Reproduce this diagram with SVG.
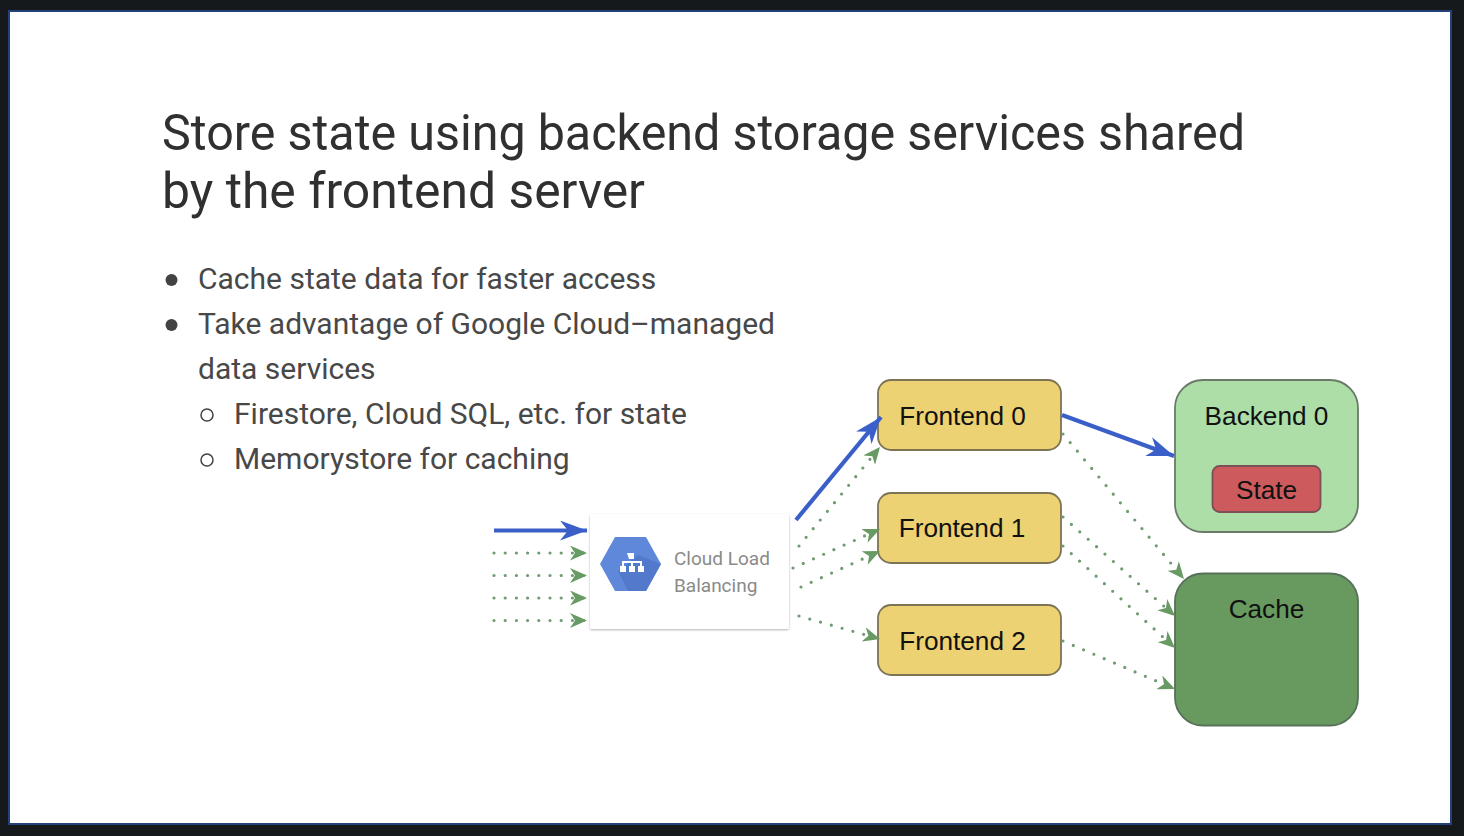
<svg xmlns="http://www.w3.org/2000/svg" width="1464" height="836" viewBox="0 0 1464 836">
<defs>
<style>
.title{font-family:"Roboto","Open Sans","Liberation Sans",sans-serif;font-size:49.500px;fill:#303030}
.body{font-family:"Roboto","Liberation Sans",sans-serif;font-size:30px;fill:#484848}
.lbl{font-family:"Liberation Sans",Arial,sans-serif;font-size:26.200px;fill:#111;text-anchor:middle}
.fe{fill:#ecd272;stroke:#7d7355;stroke-width:1.800}
.blue{stroke:#3a5fc8;stroke-width:4.200;fill:none}
.dot{stroke:#6f9a72;stroke-width:3.200;fill:none;stroke-linecap:round;stroke-dasharray:0 11.200}
</style>
<marker id="bh" markerUnits="userSpaceOnUse" viewBox="0 0 28 20" markerWidth="28" markerHeight="20" refX="27" refY="10" orient="auto"><path d="M0 0 27 10 0 20 8 10Z" fill="#3a5fc8"/></marker>
<marker id="gh" markerUnits="userSpaceOnUse" viewBox="0 0 18 15" markerWidth="18" markerHeight="15" refX="17" refY="7.500" orient="auto"><path d="M0 0 17 7.500 0 15 5 7.500Z" fill="#689a63"/></marker>
<filter id="sh" x="-5%" y="-5%" width="110%" height="110%"><feDropShadow dx="0" dy="1" stdDeviation="1.200" flood-color="#000" flood-opacity=".3"/></filter>
</defs>
<rect width="1464" height="836" fill="#16191b"/>
<rect x="9" y="11" width="1442" height="813" fill="#fff" stroke="#23427a" stroke-width="2"/>
<g id="title"><text class="title" x="162" y="150" textLength="1083" lengthAdjust="spacingAndGlyphs">Store state using backend storage services shared</text><text class="title" x="162" y="208" textLength="483" lengthAdjust="spacingAndGlyphs">by the frontend server</text></g>
<g id="bullets">
<circle cx="171.500" cy="280" r="6" fill="#424242"/><text class="body" x="198" y="288.500">Cache state data for faster access</text>
<circle cx="171.500" cy="325" r="6" fill="#424242"/><text class="body" x="198" y="333.500">Take advantage of Google Cloud–managed</text>
<text class="body" x="198" y="378.500">data services</text>
<circle cx="207" cy="415" r="6" fill="none" stroke="#424242" stroke-width="1.500"/><text class="body" x="234" y="423.500">Firestore, Cloud SQL, etc. for state</text>
<circle cx="207" cy="460" r="6" fill="none" stroke="#424242" stroke-width="1.500"/><text class="body" x="234" y="468.500">Memorystore for caching</text>
</g>
<g id="lb">
<rect x="590" y="514" width="199" height="115" rx="2" fill="#fff" filter="url(#sh)"/>
<path d="M600 564 615 537H646L661 564 646 591H615Z" fill="#5f88da"/>
<path d="M638 555 661 564 646 591H628L618 571Z" fill="#5279cc"/>
<path d="M627 553h7v6h-2v2h10v5h2v6h-6v-6h2v-3h-7v3h2v6h-6v-6h2v-3h-7v3h2v6h-6v-6h2v-5h10v-2h-3Z" fill="#fff"/>
<text x="674" y="565" font-family="Roboto,'Liberation Sans',sans-serif" font-size="19" fill="#8a8a8a">Cloud Load</text>
<text x="674" y="592" font-family="Roboto,'Liberation Sans',sans-serif" font-size="19" fill="#8a8a8a">Balancing</text>
</g>
<g id="frontend0"><rect class="fe" x="878" y="380" width="183" height="70" rx="13"/><text class="lbl" x="962.500" y="424.500">Frontend 0</text></g>
<g id="frontend1"><rect class="fe" x="878" y="493" width="183" height="70" rx="13"/><text class="lbl" x="962" y="537">Frontend 1</text></g>
<g id="frontend2"><rect class="fe" x="878" y="605" width="183" height="70" rx="13"/><text class="lbl" x="962.500" y="649.500">Frontend 2</text></g>
<g id="backend0"><rect x="1175" y="380" width="183" height="152" rx="28" fill="#aedea8" stroke="#697a68" stroke-width="1.800"/><text class="lbl" x="1266.500" y="424.500">Backend 0</text></g>
<g id="state"><rect x="1212.500" y="466" width="108" height="46" rx="7" fill="#cd5a5c" stroke="#7c5054" stroke-width="1.800"/><text class="lbl" x="1266.500" y="498.500">State</text></g>
<g id="cache"><rect x="1175" y="573.500" width="183" height="152" rx="28" fill="#689a60" stroke="#56705a" stroke-width="1.800"/><text class="lbl" x="1266.500" y="618">Cache</text></g>
<g id="connectors">
<path class="blue" d="M494 530.500H587" marker-end="url(#bh)"/>
<path class="dot" d="M494 553H587" marker-end="url(#gh)"/>
<path class="dot" d="M494 575.500H587" marker-end="url(#gh)"/>
<path class="dot" d="M494 598H587" marker-end="url(#gh)"/>
<path class="dot" d="M494 620.500H587" marker-end="url(#gh)"/>
<path class="blue" d="M796 520 881 417" marker-end="url(#bh)"/>
<path class="dot" d="M799 546 880 447" marker-end="url(#gh)"/>
<path class="dot" d="M793 568 880 529" marker-end="url(#gh)"/>
<path class="dot" d="M801 587 880 551" marker-end="url(#gh)"/>
<path class="dot" d="M799 616 880 639" marker-end="url(#gh)"/>
<path class="blue" d="M1062 415 1174 456" marker-end="url(#bh)"/>
<path class="dot" d="M1063 434 1184 579" marker-end="url(#gh)"/>
<path class="dot" d="M1063 517 1175 616" marker-end="url(#gh)"/>
<path class="dot" d="M1063 546 1175 648" marker-end="url(#gh)"/>
<path class="dot" d="M1063 641 1175 689" marker-end="url(#gh)"/>
</g>
</svg>
